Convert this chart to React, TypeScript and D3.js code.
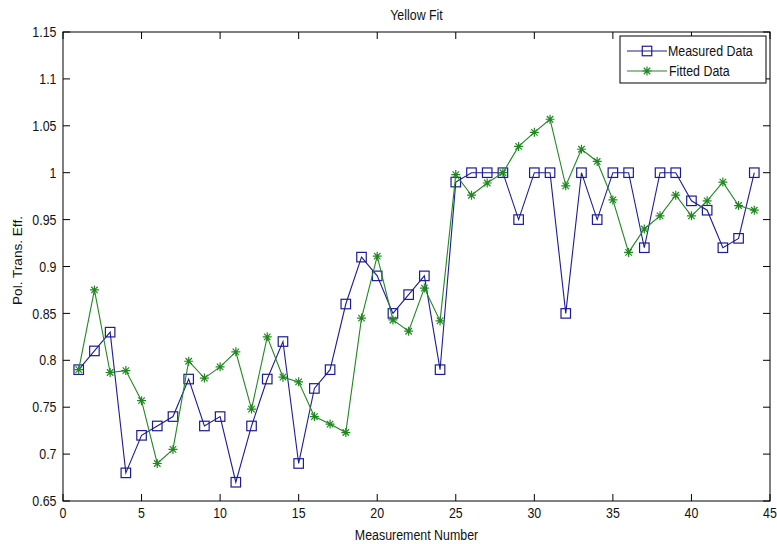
import React from "react";
import * as d3 from "d3";

// Measurement index 1..44
const measurementNumbers = d3.range(1, 45);

const measuredData = [
  0.79, 0.81, 0.83, 0.68, 0.72, 0.73, 0.74, 0.78, 0.73, 0.74,
  0.67, 0.73, 0.78, 0.82, 0.69, 0.77, 0.79, 0.86, 0.91, 0.89,
  0.85, 0.87, 0.89, 0.79, 0.99, 1.0, 1.0, 1.0, 0.95, 1.0,
  1.0, 0.85, 1.0, 0.95, 1.0, 1.0, 0.92, 1.0, 1.0, 0.97,
  0.96, 0.92, 0.93, 1.0,
];

const fittedData = [
  0.79, 0.875, 0.787, 0.789, 0.757, 0.69, 0.705, 0.799, 0.781, 0.793,
  0.809, 0.748, 0.825, 0.782, 0.777, 0.74, 0.732, 0.723, 0.845, 0.911,
  0.843, 0.831, 0.877, 0.842, 0.998, 0.976, 0.989, 1.0, 1.028, 1.043,
  1.057, 0.986, 1.025, 1.012, 0.971, 0.915, 0.94, 0.954, 0.976, 0.954,
  0.97, 0.99, 0.965, 0.96,
];

const xTicks = [0, 5, 10, 15, 20, 25, 30, 35, 40, 45];
const yTicks = [0.65, 0.7, 0.75, 0.8, 0.85, 0.9, 0.95, 1, 1.05, 1.1, 1.15];

const seriesNames = ["Measured Data", "Fitted Data"];
const titleText = "Yellow Fit";
const xLabel = "Measurement Number";
const yLabel = "Pol. Trans. Eff.";

const W = 777;
const H = 544;
const left = 63;
const right = 770;
const top = 32;
const bottom = 501;
const tickLen = 7;
const font = "'Liberation Sans', Arial, Helvetica, sans-serif";
const fs = 12.4;
const stretch = 1.15;
const blue = "#1c1c96";
const green = "#1f891f";

// Text that is slightly taller than it is wide, like screen Helvetica
function Label({
  x,
  y,
  anchor = "start",
  rotate = 0,
  size = fs,
  children,
}: {
  x: number;
  y: number;
  anchor?: "start" | "middle" | "end";
  rotate?: number;
  size?: number;
  children: React.ReactNode;
}) {
  return (
    <text
      transform={`translate(${x},${y}) rotate(${rotate}) scale(1,${stretch})`}
      textAnchor={anchor}
      fontSize={size}
      fill="#111"
    >
      {children}
    </text>
  );
}

function Square({ x, y }: { x: number; y: number }) {
  const s = 9.5;
  return (
    <rect x={x - s / 2} y={y - s / 2} width={s} height={s} fill="none" stroke={blue} strokeWidth={1.2} />
  );
}

function Star({ x, y }: { x: number; y: number }) {
  const r = 4.5;
  const d = r * 0.72;
  return (
    <path
      d={`M${x - r},${y}H${x + r}M${x},${y - r}V${y + r}M${x - d},${y - d}L${x + d},${y + d}M${x - d},${y + d}L${x + d},${y - d}`}
      stroke={green}
      strokeWidth={1.2}
      fill="none"
    />
  );
}

export default function App() {
  const x = d3.scaleLinear().domain([0, 45]).range([left, right]);
  const y = d3.scaleLinear().domain([0.65, 1.15]).range([bottom, top]);

  const line = d3
    .line<number>()
    .x((_, i) => x(measurementNumbers[i]))
    .y((v) => y(v));

  const fmt = (v: number) => d3.format("~g")(+v.toFixed(2));
  const halfCap = (0.716 * fs * stretch) / 2;

  const legX = 620;
  const legY = 36;
  const legW = 146;
  const legH = 47;
  const row1 = 51;
  const row2 = 71;

  return (
    <svg
      width={W}
      height={H}
      style={{ position: "absolute", left: 0, top: 0, background: "#fff" }}
      fontFamily={font}
    >
      <rect x={0} y={0} width={W} height={H} fill="#fff" />

      {/* axis box */}
      <rect x={left} y={top} width={right - left} height={bottom - top} fill="none" stroke="#000" strokeWidth={1} />

      {/* x ticks, bottom and top */}
      {xTicks.map((t) => (
        <g key={"xt" + t}>
          <line x1={x(t)} x2={x(t)} y1={bottom} y2={bottom - tickLen} stroke="#000" />
          <line x1={x(t)} x2={x(t)} y1={top} y2={top + tickLen} stroke="#000" />
          <Label x={x(t)} y={518} anchor="middle">
            {t}
          </Label>
        </g>
      ))}

      {/* y ticks, left and right */}
      {yTicks.map((t) => (
        <g key={"yt" + t}>
          <line x1={left} x2={left + tickLen} y1={y(t)} y2={y(t)} stroke="#000" />
          <line x1={right} x2={right - tickLen} y1={y(t)} y2={y(t)} stroke="#000" />
          <Label x={56.5} y={y(t) + halfCap} anchor="end">
            {fmt(t)}
          </Label>
        </g>
      ))}

      {/* series */}
      <path d={line(measuredData) || ""} fill="none" stroke={blue} strokeWidth={1.1} />
      {measuredData.map((v, i) => (
        <Square key={"m" + i} x={x(measurementNumbers[i])} y={y(v)} />
      ))}
      <path d={line(fittedData) || ""} fill="none" stroke={green} strokeWidth={1.1} />
      {fittedData.map((v, i) => (
        <Star key={"f" + i} x={x(measurementNumbers[i])} y={y(v)} />
      ))}

      {/* labels */}
      <Label x={(left + right) / 2} y={20} anchor="middle">
        {titleText}
      </Label>
      <Label x={(left + right) / 2} y={540} anchor="middle">
        {xLabel}
      </Label>
      <text
        transform={`translate(22,${(top + bottom) / 2 - 6}) rotate(-90)`}
        textAnchor="middle"
        fontSize={13.6}
        fill="#111"
      >
        {yLabel}
      </text>

      {/* legend */}
      <rect x={legX} y={legY} width={legW} height={legH} fill="#fff" stroke="#000" strokeWidth={1} />
      <line x1={627} x2={667} y1={row1} y2={row1} stroke={blue} strokeWidth={1.1} />
      <Square x={647} y={row1} />
      <Label x={668} y={row1 + halfCap}>
        {seriesNames[0]}
      </Label>
      <line x1={627} x2={667} y1={row2} y2={row2} stroke={green} strokeWidth={1.1} />
      <Star x={647} y={row2} />
      <Label x={669} y={row2 + halfCap}>
        {seriesNames[1]}
      </Label>
    </svg>
  );
}
